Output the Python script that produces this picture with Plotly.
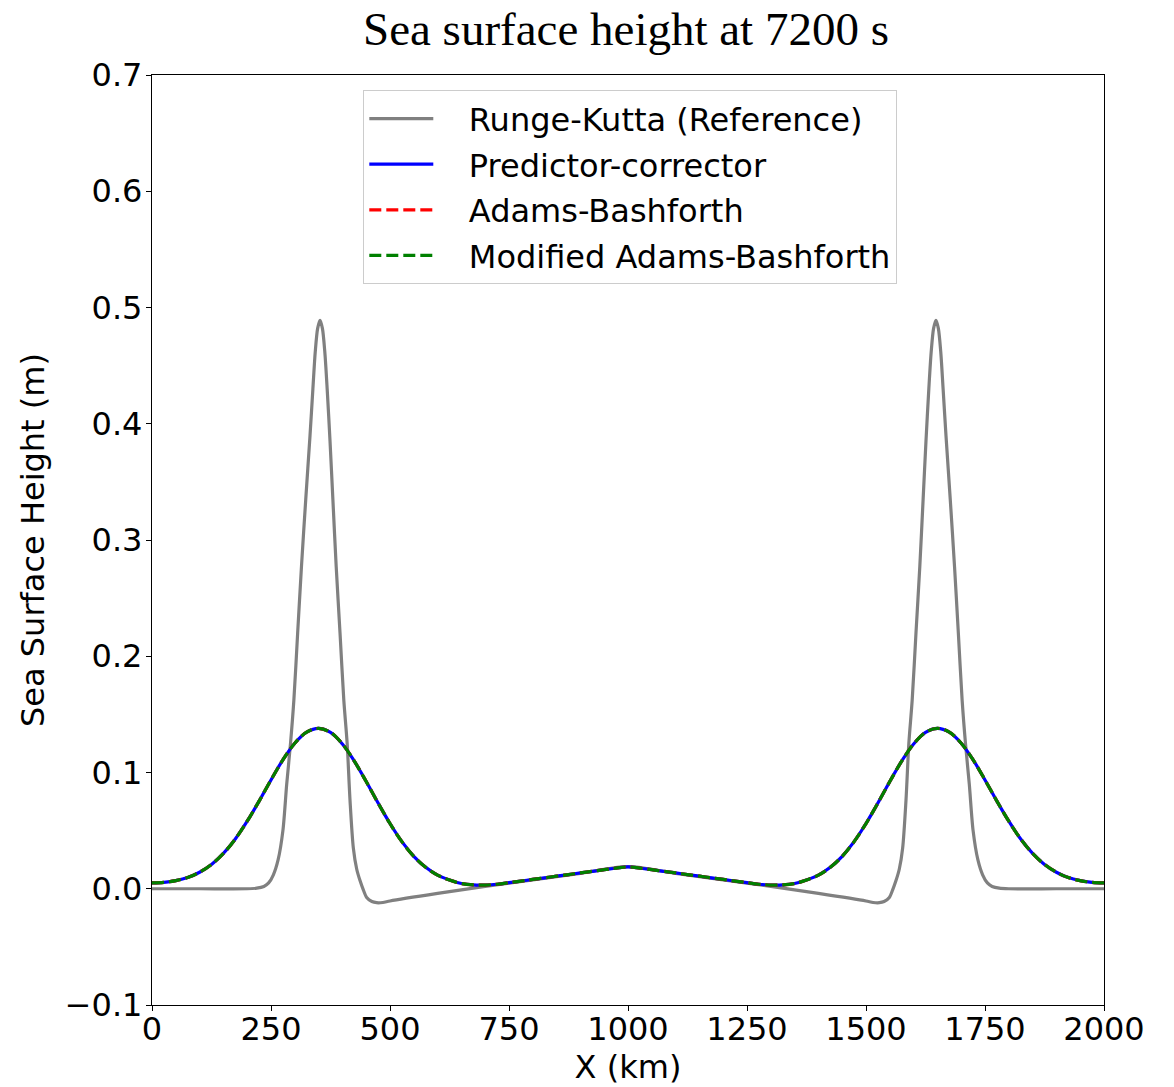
import plotly.graph_objects as go

# ---- data ----
rk_x = [0, 100, 200, 220, 235, 245, 255, 265, 275, 283, 291, 298, 306, 314, 323, 332, 338, 343, 348, 353,
        358, 363, 368, 374, 380, 387, 395, 403, 410, 416, 423, 430, 437, 444, 451, 462, 472, 485, 500, 600,
        700, 800, 900, 1000,
        1100, 1200, 1300, 1400, 1500, 1515, 1528, 1538, 1549, 1556, 1563, 1570, 1577, 1584, 1590, 1597,
        1605, 1613, 1620, 1626, 1632, 1637, 1642, 1647, 1652, 1657, 1662, 1668, 1677, 1686, 1694, 1702,
        1709, 1717, 1725, 1735, 1745, 1755, 1765, 1780, 1800, 1900, 2000]
rk_y = [0, 0, 0, 0.0005, 0.002, 0.005, 0.012, 0.025, 0.05, 0.09, 0.125, 0.162, 0.22, 0.277, 0.335, 0.39,
        0.43, 0.462, 0.482, 0.489, 0.482, 0.462, 0.43, 0.385, 0.335, 0.277, 0.22, 0.162, 0.125, 0.076,
        0.035, 0.017, 0.007, -0.001, -0.0075, -0.011, -0.012, -0.0118, -0.0105, -0.004, 0.002, 0.0077,
        0.0133, 0.019,
        0.0133, 0.0077, 0.002, -0.004, -0.0105, -0.0118, -0.012, -0.011, -0.0075, -0.001, 0.007, 0.017,
        0.035, 0.076, 0.125, 0.162, 0.22, 0.277, 0.335, 0.385, 0.43, 0.462, 0.482, 0.489, 0.482, 0.462,
        0.43, 0.39, 0.335, 0.277, 0.22, 0.162, 0.125, 0.09, 0.05, 0.025, 0.012, 0.005, 0.002, 0.0005,
        0, 0, 0]

num_x = [0, 25, 50, 75, 100, 125, 150, 175, 200, 225, 250, 275, 300, 325, 350, 375, 400, 425, 450, 475,
         500, 525, 550, 575, 600, 625, 650, 675, 700, 725, 750, 775, 800, 825, 850, 875, 900, 925, 950,
         975, 1000, 1025, 1050, 1075, 1100, 1125, 1150, 1175, 1200, 1225, 1250, 1275, 1300, 1325, 1350,
         1375, 1400, 1425, 1450, 1475, 1500, 1525, 1550, 1575, 1600, 1625, 1650, 1675, 1700, 1725, 1750,
         1775, 1800, 1825, 1850, 1875, 1900, 1925, 1950, 1975, 2000]
pc_y = [0.005, 0.0055, 0.007, 0.0096, 0.0142, 0.0209, 0.0304, 0.0428, 0.0581, 0.0754, 0.0936, 0.1109,
        0.1252, 0.1347, 0.138, 0.1345, 0.1245, 0.1098, 0.0922, 0.0737, 0.0561, 0.0405, 0.0279, 0.0184,
        0.0117, 0.0075, 0.0045, 0.0033, 0.0032, 0.0039, 0.0052, 0.0066, 0.008, 0.0094, 0.0108, 0.0122,
        0.0136, 0.015, 0.0164, 0.0177, 0.0188,
        0.0177, 0.0164, 0.015, 0.0136, 0.0122, 0.0108, 0.0094, 0.008, 0.0066, 0.0052, 0.0039, 0.0032,
        0.0033, 0.0045, 0.0075, 0.0117, 0.0184, 0.0279, 0.0405, 0.0561, 0.0737, 0.0922, 0.1098, 0.1245,
        0.1345, 0.138, 0.1347, 0.1252, 0.1109, 0.0936, 0.0754, 0.0581, 0.0428, 0.0304, 0.0209, 0.0142,
        0.0096, 0.007, 0.0055, 0.005]
ab_y = list(pc_y)
mab_y = list(pc_y)

x_ticks = [0, 250, 500, 750, 1000, 1250, 1500, 1750, 2000]
y_ticks = [-0.1, 0.0, 0.1, 0.2, 0.3, 0.4, 0.5, 0.6, 0.7]
y_tick_text = ["\u22120.1", "0.0", "0.1", "0.2", "0.3", "0.4", "0.5", "0.6", "0.7"]

names = ["Runge-Kutta (Reference)", "Predictor-corrector", "Adams-Bashforth", "Modified Adams-Bashforth"]

# ---- figure ----
FONT = "DejaVu Sans"
PAD = "\u00a0\u00a0\u00a0"
W, H = 1174, 1087
fig = go.Figure()
fig.add_trace(go.Scatter(x=rk_x, y=rk_y, mode="lines", name=PAD + names[0], legendgroup="a",
                         line=dict(color="#808080", width=3.2, shape="spline", smoothing=0.8)))
fig.add_trace(go.Scatter(x=num_x, y=pc_y, mode="lines", name=PAD + names[1], legendgroup="b",
                         line=dict(color="#0000ff", width=3.2, shape="spline")))
fig.add_trace(go.Scatter(x=num_x, y=ab_y, mode="lines", name=PAD + names[2], legendgroup="c",
                         line=dict(color="#ff0000", width=3.2, dash="12px,5px", shape="spline")))
fig.add_trace(go.Scatter(x=num_x, y=mab_y, mode="lines", name=PAD + names[3], legendgroup="d",
                         line=dict(color="#008000", width=3.2, dash="12px,5px", shape="spline")))

axis_common = dict(showgrid=False, zeroline=False, showline=True, linecolor="black", linewidth=1.3,
                   mirror=True, ticks="outside", ticklen=5, tickwidth=1.3, tickcolor="black",
                   automargin=False,
                   tickfont=dict(family=FONT, size=32, color="black"))

fig.update_layout(
    width=W, height=H,
    margin=dict(l=152, r=70, t=75, b=82, autoexpand=False),
    paper_bgcolor="white", plot_bgcolor="white",
    title=dict(text="Sea surface height at 7200 s", x=(624 + 2) / W, xanchor="center", xref="container",
               y=1 - 29 / H, yanchor="middle", yref="container", automargin=False,
               font=dict(family="Liberation Serif", size=47, color="black")),
    xaxis=dict(range=[0, 2000], tickvals=x_ticks, ticktext=[str(v) for v in x_ticks],
               ticklabelstandoff=-10,
               title=dict(text="X (km)", font=dict(family=FONT, size=32, color="black"), standoff=2),
               **axis_common),
    yaxis=dict(range=[-0.1, 0.7], tickvals=y_ticks, ticktext=y_tick_text,
               ticklabelstandoff=-3,
               title=dict(text="Sea Surface Height (m)", font=dict(family=FONT, size=32, color="black"),
                          standoff=10),
               **axis_common),
    legend=dict(x=(363 - 152) / 952, y=(1005 - 90) / 930, xanchor="left", yanchor="top",
                bgcolor="rgba(255,255,255,0.8)", bordercolor="#cccccc", borderwidth=1.3,
                font=dict(family=FONT, size=32, color="black"),
                itemwidth=64, tracegroupgap=1),
    showlegend=True,
)

fig.write_html("out.html", config={"displayModeBar": False},
               post_script="document.body.style.margin='0';")
